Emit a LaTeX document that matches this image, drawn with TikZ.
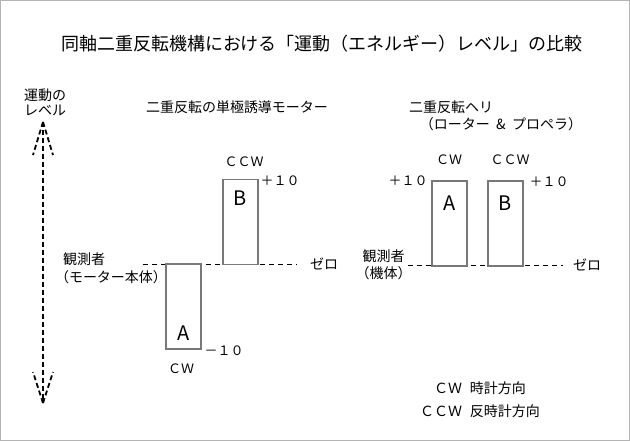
\documentclass[tikz,border=0pt]{standalone}
\usepackage{fontspec}
\setmainfont{Noto Sans CJK JP}
\usetikzlibrary{positioning}
\definecolor{framegray}{RGB}{180,180,180}
\definecolor{bargray}{RGB}{120,120,120}

\begin{document}
\begin{tikzpicture}[x=1pt,y=-1pt,
  lbl/.style={inner sep=0pt,font=\fontsize{14}{15}\selectfont},
  tag/.style={inner sep=0pt,font=\fontsize{13}{14}\selectfont},
  bar/.style={draw=bargray,line width=1.2pt,minimum width=35pt,minimum height=85pt,inner sep=0pt},
  letter/.style={inner sep=0pt,font=\fontsize{20}{20}\selectfont},
  zeroline/.style={dash pattern=on 5pt off 4pt,line width=0.8pt},
  levelline/.style={dash pattern=on 5pt off 3pt,line width=1.8pt}]
  \useasboundingbox (0,0) rectangle (630,441);
  \draw[framegray,line width=1pt] (0.5,0.5) rectangle (629.5,440.5);
  \node[inner sep=0pt,font=\fontsize{18}{18}\selectfont] (title) at (322,44) {同軸二重反転機構における「運動（エネルギー）レベル」の比較};

  % energy level axis
  \node[lbl,align=center] (lvtext) at (45,102) {運動の\\レベル};
  \coordinate (lvTop) at (43,122);
  \coordinate (lvBot) at (43,403);
  \draw[levelline] (lvTop) -- (lvBot);
  \draw[levelline] (lvTop) -- ++(-10,33); \draw[levelline] (lvTop) -- ++(10,33);
  \draw[levelline] (lvBot) -- ++(-10,-31); \draw[levelline] (lvBot) -- ++(10,-31);

  % motor
  \node[lbl] (motorhead) at (237,107) {二重反転の単極誘導モーター};
  \node[lbl,anchor=west] (obsL) at (63,259) {観測者};
  \node[lbl] (obsLsub) at (111,277) {（モーター本体）};
  \coordinate (zlL) at (143,264);
  \node[lbl,inner xsep=13pt,anchor=west] (zeroL) at (297,264) {ゼロ};
  \draw[zeroline] (zlL) -- (zeroL.west);
  \node[bar] (barBl) at (240.5,222) {};
  \node[bar] (barAl) at (183.5,306.5) {};
  \node[letter] (letBl) at (240,198) {B};
  \node[letter] (letAl) at (183.5,333) {A};
  \node[tag] (ccwL) at (244,162) {ＣＣＷ};
  \node[tag] (plusL) at (280,181) {＋１０};
  \node[tag] (minusL) at (224,351) {－１０};
  \node[tag] (cwL) at (181,369) {ＣＷ};

  % helicopter
  \node[lbl,anchor=west] (helihead) at (409,107) {二重反転ヘリ};
  \node[lbl] (helisub) at (501,124) {（ローター\hspace{0.45em}\&\hspace{0.45em}プロペラ）};
  \node[lbl] (obsR) at (383.5,256) {観測者};
  \node[lbl] (obsRsub) at (383.5,273) {（機体）};
  \coordinate (zlR) at (408,265);
  \node[lbl,inner xsep=10pt,anchor=west] (zeroR) at (563,265) {ゼロ};
  \draw[zeroline] (zlR) -- (zeroR.west);
  \node[bar] (barAr) at (449.5,223.5) {};
  \node[bar] (barBr) at (505.5,223.5) {};
  \node[letter] (letAr) at (449.5,203) {A};
  \node[letter] (letBr) at (505.5,203) {B};
  \node[tag] (cwR) at (449,160) {ＣＷ};
  \node[tag] (ccwR) at (510,160) {ＣＣＷ};
  \node[tag] (plusAr) at (408,181) {＋１０};
  \node[tag] (plusBr) at (549,182) {＋１０};

  % legend
  \node[lbl] (legcw) at (480,388) {ＣＷ\hspace{0.55em}時計方向};
  \node[lbl] (legccw) at (480,411) {ＣＣＷ\hspace{0.55em}反時計方向};
\end{tikzpicture}
\end{document}
